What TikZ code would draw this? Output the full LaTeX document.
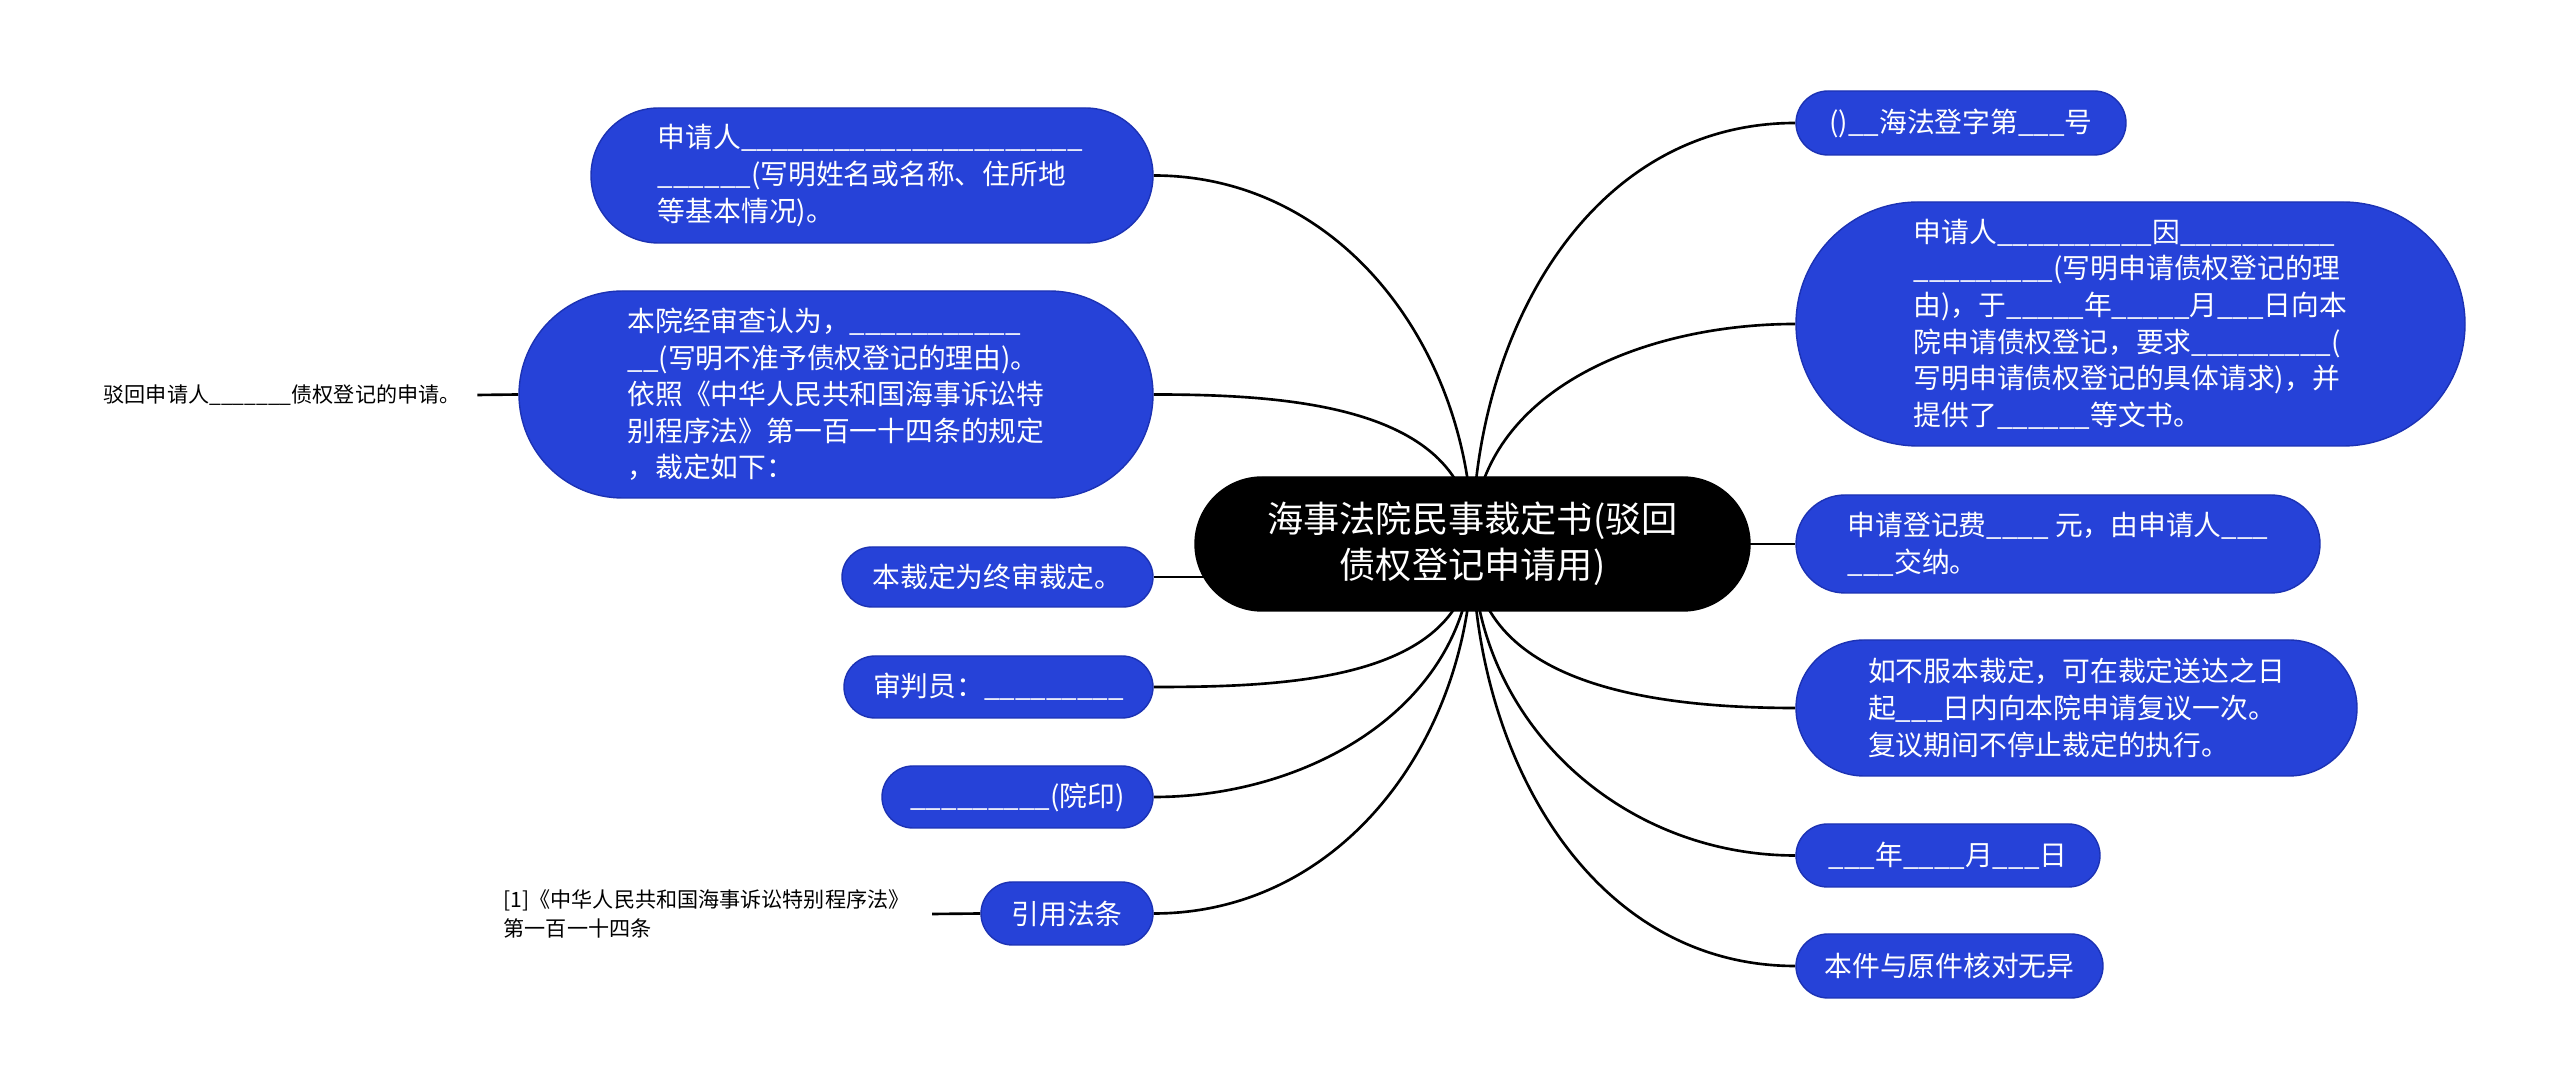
\documentclass[tikz,border=0pt]{standalone}
\usepackage{fontspec}
\setmainfont{Noto Sans CJK SC}
\definecolor{mmblue}{RGB}{38,66,216}
\definecolor{mmedge}{RGB}{28,50,180}
\newcommand\bk[1]{\ifnum#1>0 \_\expandafter\bk\expandafter{\the\numexpr#1-1\relax}\fi}
\pgfdeclarelayer{bg}
\pgfsetlayers{bg,main}
\tikzset{
  mmroot/.style={fill=black, draw=black, text=white, align=center,
    font=\fontsize{10.3}{13}\selectfont, inner sep=0pt},
  mmbox/.style={fill=mmblue, draw=mmedge, line width=0.4pt, text=white, align=left,
    font=\fontsize{7.9}{10.4}\selectfont, inner sep=0pt},
  mmleaf/.style={text=black, align=left, font=\fontsize{6.0}{8.2}\selectfont, inner ysep=0pt},
  conn/.style={draw=black, line width=0.75pt},
  sz/.style 2 args={minimum width=#1*0.01cm, minimum height=#2*0.01cm, rounded corners=#2*0.005cm},
}
\begin{document}
\begin{tikzpicture}[x=0.01cm, y=-0.01cm]
\useasboundingbox (0,0) rectangle (2560,1089);
% central
\node[mmroot, sz={555}{134}] (c) at (1472.5,544) {海事法院民事裁定书(驳回\\债权登记申请用)};
% left
\node[mmbox, sz={562}{135}, text width=4.28cm] (n1) at (872,175.5) {申请人\bk{22}\\\bk{6}(写明姓名或名称、住所地\\等基本情况)。};
\node[mmbox, sz={634}{207}] (n2) at (836,394.5) {本院经审查认为，\bk{11}\\\bk{2}(写明不准予债权登记的理由)。\\依照《中华人民共和国海事诉讼特\\别程序法》第一百一十四条的规定\\，裁定如下：};
\node[mmbox, sz={311}{60}] (n3) at (997.5,577) {本裁定为终审裁定。};
\node[mmbox, sz={309}{62}] (n4) at (998.5,687) {审判员：\bk{9}};
\node[mmbox, sz={271}{62}] (n5) at (1017.5,797) {\bk{9}(院印)};
\node[mmbox, sz={172}{63}] (n6) at (1067,913.5) {引用法条};
\node[mmleaf, inner xsep=0.16cm, anchor=west] (l2) at (87,395) {驳回申请人\bk{7}债权登记的申请。};
\node[mmleaf, inner xsep=0.22cm, anchor=west] (l6) at (481,914) {[1]《中华人民共和国海事诉讼特别程序法》\\第一百一十四条};
% right
\node[mmbox, sz={330}{64}] (r1) at (1961,123) {()\bk{2}海法登字第\bk{3}号};
\node[mmbox, sz={669}{244}] (r2) at (2130.5,324) {申请人\bk{10}因\bk{10}\\\bk{9}(写明申请债权登记的理\\由)，于\bk{5}年\bk{5}月\bk{3}日向本\\院申请债权登记，要求\bk{9}(\\写明申请债权登记的具体请求)，并\\提供了\bk{6}等文书。};
\node[mmbox, sz={524}{98}] (r3) at (2058,544) {申请登记费\bk{4} 元，由申请人\bk{3}\\\bk{3}交纳。};
\node[mmbox, sz={561}{136}] (r4) at (2076.5,708) {如不服本裁定，可在裁定送达之日\\起\bk{3}日内向本院申请复议一次。\\复议期间不停止裁定的执行。};
\node[mmbox, sz={304}{63}] (r5) at (1948,855.5) {\bk{3}年\bk{4}月\bk{3}日};
\node[mmbox, sz={307}{64}] (r6) at (1949.5,966) {本件与原件核对无异};
\begin{pgfonlayer}{bg}
\fill[white] (0,0) rectangle (2560,1089);
\draw[conn] (c.center) to[out=90,in=0] (n1.east);
\draw[conn] (c.center) to[out=90,in=0] (n2.east);
\draw[conn] (n3.east) -- (c.center |- n3.east);
\draw[conn] (c.center) to[out=-90,in=0] (n4.east);
\draw[conn] (c.center) to[out=-90,in=0] (n5.east);
\draw[conn] (c.center) to[out=-90,in=0] (n6.east);
\draw[conn] (c.center) to[out=90,in=180] (r1.west);
\draw[conn] (c.center) to[out=90,in=180] (r2.west);
\draw[conn] (c.center) -- (r3.west);
\draw[conn] (c.center) to[out=-90,in=180] (r4.west);
\draw[conn] (c.center) to[out=-90,in=180] (r5.west);
\draw[conn] (c.center) to[out=-90,in=180] (r6.west);
\draw[conn] (l2.east) -- (n2.west);
\draw[conn] (l6.east) -- (n6.west);
\end{pgfonlayer}
\end{tikzpicture}
\end{document}
